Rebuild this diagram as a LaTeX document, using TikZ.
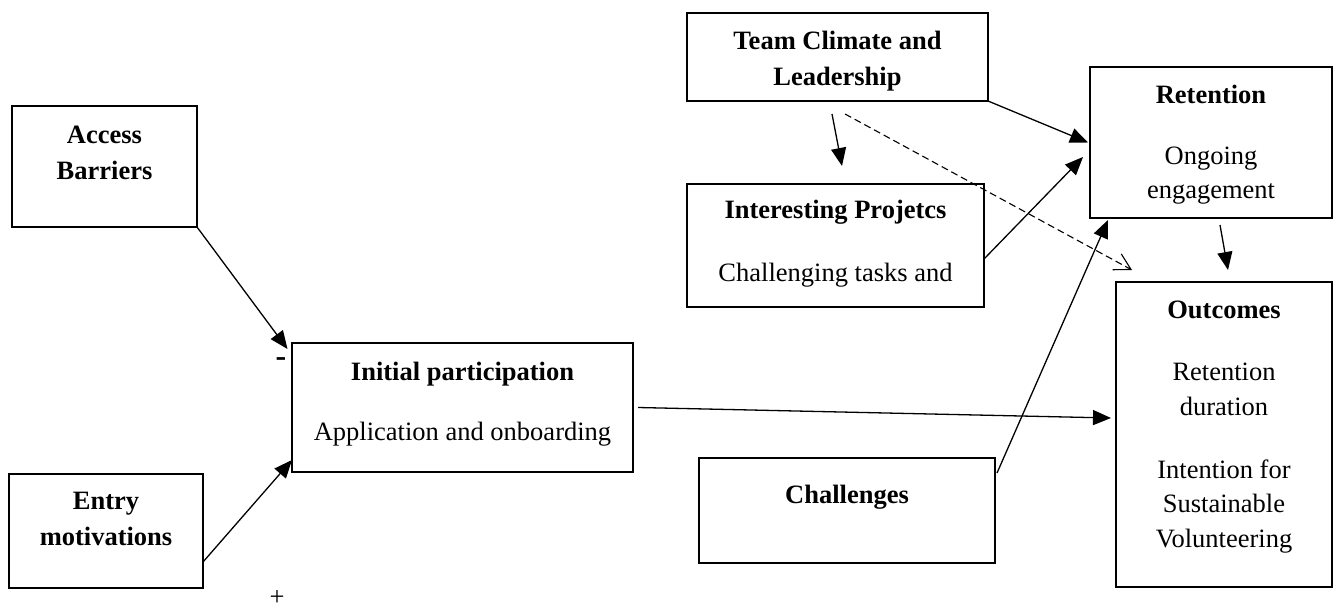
\documentclass[tikz,border=0pt]{standalone}
\usepackage{fontspec}
\setmainfont{Liberation Serif}
\usetikzlibrary{arrows.meta}

\begin{document}
\begin{tikzpicture}[x=1pt,y=-1pt,
  box/.style={draw, line width=2.6pt, inner sep=0pt, outer sep=0pt},
  txt/.style={inner sep=0pt, anchor=base, font=\fontsize{26.5}{35}\selectfont},
  hd/.style={txt, font=\fontsize{26.5}{35}\selectfont\bfseries},
  conn/.style={line width=1.3pt, -{Triangle[length=18pt,width=15pt]}},
  weak/.style={line width=1.1pt, dash pattern=on 7pt off 4pt,
               -{Straight Barb[length=16pt,width=18pt,line width=1.1pt]}}]
\useasboundingbox (0,0) rectangle (1337,609);

% boxes
\node[box, minimum width=185pt, minimum height=121pt] (ab)  at (104.5,166.5) {};
\node[box, minimum width=194pt, minimum height=114pt] (em)  at (106,531)     {};
\node[box, minimum width=341pt, minimum height=129pt] (ip)  at (462.5,407.5) {};
\node[box, minimum width=301pt, minimum height=88pt]  (tc)  at (837.5,57)    {};
\node[box, minimum width=297pt, minimum height=123pt] (prj) at (835.5,245.5) {};
\node[box, minimum width=296pt, minimum height=105pt] (ch)  at (847,510.5)   {};
\node[box, minimum width=242pt, minimum height=151pt] (ret) at (1211,142.5)  {};
\node[box, minimum width=216pt, minimum height=305pt] (out) at (1224,434.5)  {};

% box texts
\node[hd] (abA) at (104.5,143.3) {Access};
\node[hd] (abB) at (104.5,179.3) {Barriers};
\node[hd] (emA) at (106,509) {Entry};
\node[hd] (emB) at (106,545) {motivations};
\node[hd]  (ipA) at (462.5,380) {Initial participation};
\node[txt] (ipB) at (462.5,440) {Application and onboarding};
\node[hd] (tcA) at (837.5,49.3) {Team Climate and};
\node[hd] (tcB) at (837.5,86) {Leadership};
\node[hd]  (prjA) at (835.5,218.3) {Interesting Projetcs};
\node[txt] (prjB) at (835.5,281.7) {Challenging tasks and};
\node[hd] (chA) at (847,503.3) {Challenges};
\node[hd]  (retA) at (1211,103.3) {Retention};
\node[txt] (retB) at (1211,165) {Ongoing};
\node[txt] (retC) at (1211,198.3) {engagement};
\node[hd]  (outA) at (1224,318) {Outcomes};
\node[txt] (outB) at (1224,380) {Retention};
\node[txt] (outC) at (1224,415) {duration};
\node[txt] (outD) at (1224,478) {Intention for};
\node[txt] (outE) at (1224,512) {Sustainable};
\node[txt] (outF) at (1224,547) {Volunteering};

% signs
\node[inner sep=0pt, anchor=base, font=\fontsize{32}{35}\selectfont\bfseries] (minus) at (281,366) {-};
\node[inner sep=0pt, anchor=base, font=\fontsize{26.5}{35}\selectfont] (plus) at (277,605) {+};

% connectors
\draw[conn] (ab.south east) -- ([xshift=-4.5pt,yshift=-6pt]ip.north west);
\draw[conn] ([yshift=-31pt]em.east) -- ([yshift=12pt]ip.south west);
\draw[conn] ([xshift=5pt]ip.east) -- ([xshift=-5pt,yshift=16.5pt]out.west);
\draw[conn] (tc.south east) -- ([xshift=-2pt]ret.west);
\draw[conn] ([xshift=-5.5pt,yshift=-13pt]tc.south) -- ([xshift=6.5pt,yshift=18pt]prj.north);
\draw[weak] ([xshift=7.5pt,yshift=-13pt]tc.south) -- ([xshift=16pt,yshift=12pt]out.north west);
\draw[conn] ([yshift=-13.5pt]prj.east) -- ([xshift=-7pt,yshift=-14.5pt]ret.west);
\draw[conn] ([xshift=2pt,yshift=-15pt]ch.north east) -- ([xshift=18pt,yshift=-2pt]ret.south west);
\draw[conn] ([xshift=9pt,yshift=-7pt]ret.south) -- ([xshift=4pt,yshift=12pt]out.north);
\end{tikzpicture}
\end{document}
